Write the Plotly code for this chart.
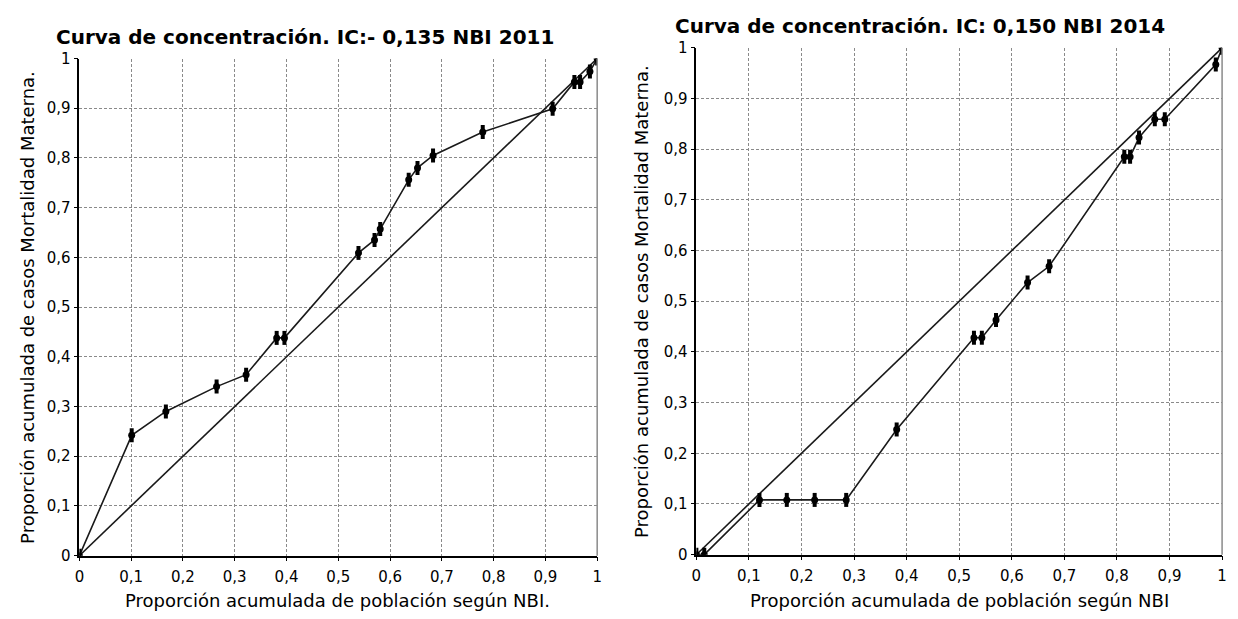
import plotly.graph_objects as go

# ---- data ----
pob_2011 = [0, 0.101, 0.167, 0.265, 0.322, 0.381, 0.396, 0.539, 0.570, 0.581,
            0.636, 0.653, 0.683, 0.779, 0.914, 0.956, 0.967, 0.986, 1.0]
mm_2011 = [0, 0.242, 0.290, 0.340, 0.364, 0.438, 0.438, 0.609, 0.635, 0.657,
           0.756, 0.780, 0.805, 0.852, 0.899, 0.953, 0.953, 0.974, 1.0]

pob_2014 = [0, 0.015, 0.120, 0.172, 0.225, 0.285, 0.381, 0.528, 0.543, 0.570,
            0.630, 0.671, 0.814, 0.825, 0.842, 0.872, 0.891, 0.988, 1.0]
mm_2014 = [0, 0, 0.108, 0.108, 0.108, 0.108, 0.247, 0.428, 0.428, 0.463,
           0.537, 0.569, 0.785, 0.785, 0.823, 0.859, 0.859, 0.967, 1.0]

equidad = [0, 1]
tick_vals = [0, 0.1, 0.2, 0.3, 0.4, 0.5, 0.6, 0.7, 0.8, 0.9, 1]

title_2011 = "Curva de concentración. IC:- 0,135 NBI 2011"
title_2014 = "Curva de concentración. IC: 0,150 NBI 2014"
xlab_2011 = "Proporción acumulada de población según NBI."
xlab_2014 = "Proporción acumulada de población según NBI"
ylab = "Proporción acumulada de casos Mortalidad Materna."

W, H = 1238, 619
FONT = "DejaVu Sans"

fig = go.Figure()

for xs, ys, xa, ya in [(pob_2011, mm_2011, "x", "y"), (pob_2014, mm_2014, "x2", "y2")]:
    fig.add_trace(go.Scatter(x=equidad, y=equidad, mode="lines",
                             line=dict(color="#1a1a1a", width=1.6),
                             xaxis=xa, yaxis=ya, showlegend=False, hoverinfo="skip"))
    fig.add_trace(go.Scatter(x=xs, y=ys, mode="lines+markers",
                             line=dict(color="#1a1a1a", width=1.6),
                             marker=dict(symbol="circle", size=7, color="black"),
                             xaxis=xa, yaxis=ya, showlegend=False))
    fig.add_trace(go.Scatter(x=xs, y=ys, mode="markers",
                             marker=dict(symbol="line-ns-open", size=10, color="black",
                                         line=dict(color="black", width=4)),
                             xaxis=xa, yaxis=ya, showlegend=False, hoverinfo="skip"))

def px_x(p):
    return p / W

def px_y(p):
    return (H - p) / H

axis_common = dict(
    range=[0, 1], tickvals=tick_vals, showgrid=True,
    gridcolor="#8a8a8a", griddash="3px,2px", gridwidth=1,
    zeroline=False, showline=True, linecolor="black", linewidth=1.5,
    ticks="outside", ticklen=4, tickcolor="black",
    tickfont=dict(family=FONT, size=15, color="black"),
    fixedrange=True,
)

fig.update_layout(
    width=W, height=H,
    margin=dict(l=0, r=0, t=0, b=0),
    paper_bgcolor="white", plot_bgcolor="white",
    separators=",.",
    xaxis=dict(domain=[px_x(75), px_x(597)], anchor="y", ticklabelstandoff=3, **axis_common),
    yaxis=dict(domain=[px_y(563), px_y(51)], anchor="x", **axis_common),
    xaxis2=dict(domain=[px_x(697), px_x(1227)], anchor="y2", ticklabelstandoff=3, **axis_common),
    yaxis2=dict(domain=[px_y(562), px_y(40)], anchor="x2", **axis_common),
)

# right borders (solid gray)
for xr, yr in [("x domain", "y domain"), ("x2 domain", "y2 domain")]:
    fig.add_shape(type="line", xref=xr, yref=yr, x0=1, x1=1, y0=0, y1=1,
                  line=dict(color="#8a8a8a", width=1.5))

ann = []
ann.append(dict(text=title_2011, x=px_x(49), y=px_y(29), xanchor="left", yanchor="middle",
                font=dict(family=FONT, size=20, color="black", weight="bold")))
ann.append(dict(text=title_2014, x=px_x(673), y=px_y(17), xanchor="left", yanchor="middle",
                font=dict(family=FONT, size=20, color="black", weight="bold")))
ann.append(dict(text=xlab_2011, x=px_x(335), y=px_y(609), xanchor="center", yanchor="middle",
                font=dict(family=FONT, size=18, color="black")))
ann.append(dict(text=xlab_2014, x=px_x(962), y=px_y(609), xanchor="center", yanchor="middle",
                font=dict(family=FONT, size=18, color="black")))
ann.append(dict(text=ylab, x=px_x(22), y=px_y(307), xanchor="center", yanchor="middle",
                textangle=-90, font=dict(family=FONT, size=18, color="black")))
ann.append(dict(text=ylab, x=px_x(641), y=px_y(301), xanchor="center", yanchor="middle",
                textangle=-90, font=dict(family=FONT, size=18, color="black")))
for a in ann:
    a.update(xref="paper", yref="paper", showarrow=False)
fig.update_layout(annotations=ann)

fig.write_html("out.html", config={"displayModeBar": False})
